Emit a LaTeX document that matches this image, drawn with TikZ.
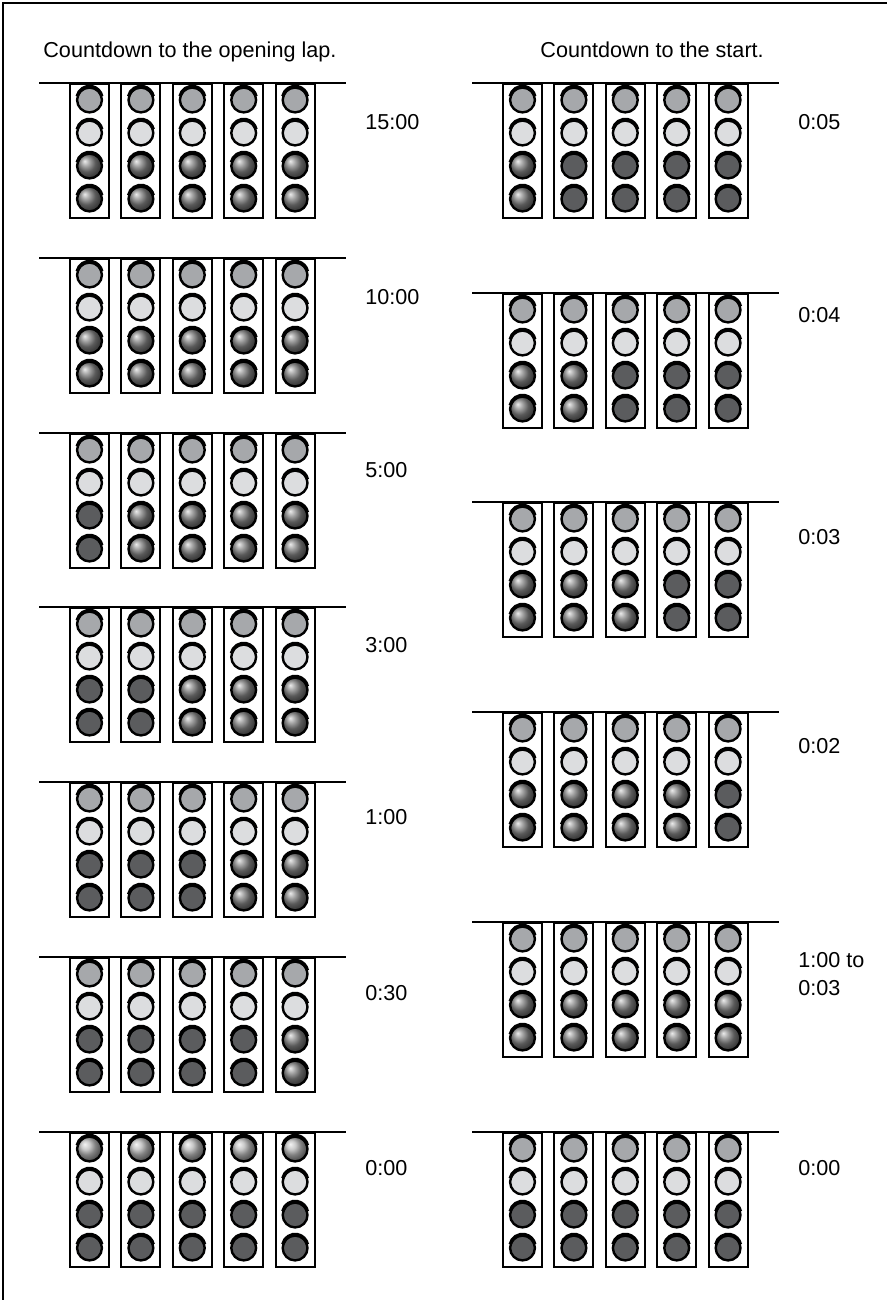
\documentclass[tikz,border=0pt]{standalone}
\usepackage{fontspec}
\setmainfont{Liberation Sans}
\usepackage{tikz}
\usepackage{xcolor}
\usetikzlibrary{positioning}
\definecolor{lampgray}{RGB}{166,168,171}
\definecolor{lamplight}{RGB}{220,221,223}
\definecolor{lampdark}{RGB}{91,92,94}

\begin{document}
\begin{tikzpicture}[x=0.5pt,y=0.5pt,
  frame/.style={line width=1.1pt},
  gantry/.style={line width=1pt},
  housing/.style={draw=black,line width=1pt,fill=white,minimum width=19.5pt,
    minimum height=67pt,inner sep=0pt,anchor=north west},
  lamp/.style={circle,draw=black,line width=1.2pt,minimum size=12.4pt,inner sep=0pt},
  lampup/.style={lamp,fill=lampgray},
  lamplit/.style={lamp,shading=ball,ball color=black!28},
  lampmid/.style={lamp,fill=lamplight},
  lampon/.style={lamp,shading=ball,ball color=black!50},
  lampoff/.style={lamp,fill=lampdark},
  hood/.style={line width=1.7pt},
  heading/.style={font=\fontsize{10.8}{13}\selectfont,inner sep=0pt,anchor=base west},
  timetext/.style={font=\fontsize{10.8}{14}\selectfont,inner sep=0pt,anchor=north west,align=left}]
  \useasboundingbox (0,0) rectangle (887,-1300);
  \draw[frame] (3,-1300) -- (3,-3) -- (887,-3);
  \node[heading](hl) at (43,-57.5){Countdown to the opening lap.};
  \node[heading](hr) at (540,-57.5){Countdown to the start.};
  \foreach \bx/\by/\on/\off/\top/\ty/\time [count=\p] in {
    69/83/1/5/0/122/{15:00},69/258/1/5/0/297/{10:00},69/433/2/5/0/470/{5:00},
    69/607/3/5/0/645/{3:00},69/782/4/5/0/817/{1:00},69/957/5/5/0/993/{0:30},
    69/1132/6/5/1/1168/{0:00},
    502/83/1/1/0/122/{0:05},502/293/1/2/0/315/{0:04},502/502/1/3/0/537/{0:03},
    502/712/1/4/0/746/{0:02},502/922/1/5/0/960/{1:00 to\\0:03},502/1132/1/0/0/1168/{0:00}}{
    \coordinate (gl\p) at (\bx-30,-\by);
    \coordinate (gr\p) at (\bx+4*51.4+41+30,-\by);
    \draw[gantry] (gl\p) -- (gr\p);
    \foreach \c in {1,...,5}{
      \node[housing] (h\p-\c) at ({\bx+(\c-1)*51.4},-\by) {};
      \ifnum\top=1 \def\st{lamplit}\else\def\st{lampup}\fi
      \node[\st] (l\p-\c-1) at ([yshift=-8.5pt]h\p-\c.north) {};
      \node[lampmid,below=2.9pt of l\p-\c-1] (l\p-\c-2) {};
      \ifnum\c<\on \def\st{lampoff}\else\ifnum\c>\off \def\st{lampoff}\else\def\st{lampon}\fi\fi
      \node[\st,below=2.9pt of l\p-\c-2] (l\p-\c-3) {};
      \node[\st,below=2.9pt of l\p-\c-3] (l\p-\c-4) {};
      \foreach \r in {1,...,4}
        \draw[hood] ([yshift=0.5pt]l\p-\c-\r.center) ++(168:6.3pt) arc[start angle=168,end angle=12,radius=6.3pt];
    }
    \node[timetext] (t\p) at (\bx+296,-\ty+7.7) {\time};
  }
\end{tikzpicture}
\end{document}
